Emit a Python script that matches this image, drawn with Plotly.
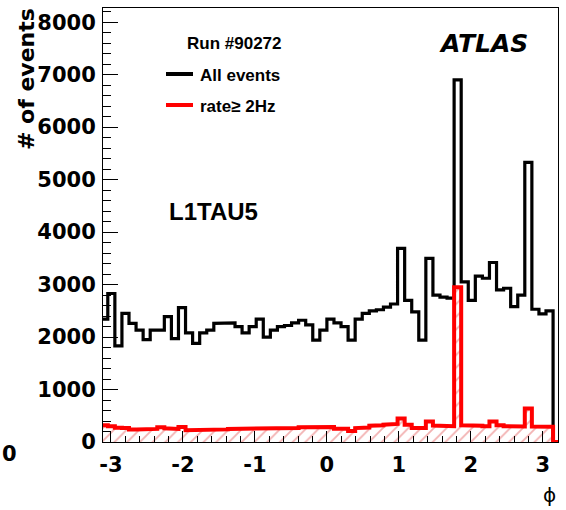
import numpy as np
import plotly.graph_objects as go

# Histogram binning in phi
n_bins = 64
phi_lo, phi_hi = -np.pi, np.pi

# Bin contents (events per phi bin)
all_events = [2340, 2830, 1830, 2450, 2260, 2130, 1950, 2130, 2130, 2390,
              1970, 2560, 2080, 1880, 2080, 2130, 2260, 2270, 2270, 2200,
              2080, 2200, 2340, 2000, 2130, 2200, 2220, 2270, 2320, 2230,
              1940, 2130, 2340, 2270, 2200, 1940, 2340, 2450, 2500, 2520,
              2570, 2630, 3690, 2700, 2480, 1940, 3500, 2800, 2760, 2740,
              6900, 3050, 2700, 3160, 3120, 3420, 2900, 2930, 2580, 2800,
              5330, 2530, 2440, 2500]

rate_ge_2hz = [318, 300, 270, 265, 240, 240, 245, 250, 280, 260,
               250, 285, 225, 222, 222, 222, 222, 240, 250, 250,
               250, 254, 254, 254, 254, 254, 254, 265, 280, 280,
               270, 286, 286, 254, 254, 210, 265, 275, 310, 318,
               330, 345, 450, 330, 265, 265, 390, 315, 300, 300,
               2950, 320, 305, 310, 300, 390, 320, 300, 300, 295,
               640, 295, 290, 290]

series_names = ["All events", "rate\u2265 2Hz"]
series_colors = ["#000000", "#ff0000"]

x_tick_vals = [-3, -2, -1, 0, 1, 2, 3]
x_tick_text = ["-3", "-2", "-1", "0", "1", "2", "3"]
y_tick_vals = [0, 1000, 2000, 3000, 4000, 5000, 6000, 7000, 8000]

x_range = [-3.11, 3.21]
y_range = [0, 8270]

edges = np.linspace(phi_lo, phi_hi, n_bins + 1)


def step_path(values):
    xs = np.concatenate([[edges[0]], np.repeat(edges, 2)[1:-1], [edges[-1]]])
    ys = np.concatenate([[0], np.repeat(np.asarray(values, float), 2), [0]])
    return xs, ys


bx, by = step_path(all_events)
rx, ry = step_path(rate_ge_2hz)
# the rate histogram line runs on along zero to the frame edge
rx = np.append(rx, x_range[1])
ry = np.append(ry, 0)

fig = go.Figure()
fig.add_trace(go.Scatter(x=bx, y=by, mode="lines",
                         line=dict(color=series_colors[0], width=3.2),
                         showlegend=False, hoverinfo="skip"))
fig.add_trace(go.Scatter(x=rx, y=ry, mode="lines",
                         line=dict(color=series_colors[1], width=4),
                         fill="tozeroy", fillcolor="rgba(0,0,0,0)",
                         fillpattern=dict(shape="/", fgcolor="rgba(225,70,70,0.85)",
                                          bgcolor="rgba(255,255,255,0)",
                                          size=9, solidity=0.2),
                         showlegend=False, hoverinfo="skip"))

# plot-area geometry in pixels (for placing text)
W, H = 566, 510
L, R, T, B = 103, 8, 8, 68
PW, PH = W - L - R, H - T - B


def px(x):
    return (x - L) / PW


def py(y):
    return (H - B - y) / PH


tick_font = dict(family="DejaVu Sans", size=21, color="black", weight="bold")
txt_font = dict(family="Liberation Sans", color="black", weight="bold")

fig.update_xaxes(range=x_range, tickmode="array", tickvals=x_tick_vals,
                 ticktext=x_tick_text,
                 ticks="inside", ticklen=11, tickwidth=1, tickcolor="black",
                 minor=dict(ticks="inside", ticklen=6, dtick=0.2, tick0=0,
                            tickcolor="black", showgrid=False),
                 showline=True, linecolor="black", linewidth=1, mirror=True,
                 showgrid=False, zeroline=False, tickfont=tick_font,
                 ticklabelstandoff=4)
fig.update_yaxes(range=y_range, tickmode="array", tickvals=y_tick_vals,
                 ticks="inside", ticklen=15, tickwidth=1, tickcolor="black",
                 minor=dict(ticks="inside", ticklen=8, dtick=200, tick0=0,
                            tickcolor="black", showgrid=False),
                 showline=True, linecolor="black", linewidth=1, mirror=True,
                 showgrid=False, zeroline=False, tickfont=tick_font,
                 ticklabelstandoff=2)

annotations = [
    dict(text="# of events", textangle=-90, x=px(27), y=py(6), xanchor="center",
         yanchor="top", font=dict(family="DejaVu Sans", size=22, color="black", weight="bold")),
    dict(text="\u03d5", x=px(549), y=py(495), xanchor="center", yanchor="middle",
         font=dict(family="DejaVu Sans", size=20, color="black")),
    dict(text="0", x=px(0), y=py(454), xanchor="left", yanchor="middle", font=tick_font),
    dict(text="Run #90272", x=px(234), y=py(44), xanchor="center", yanchor="middle",
         font=dict(size=17, **txt_font)),
    dict(text=series_names[0], x=px(198), y=py(75), xanchor="left", yanchor="middle",
         font=dict(size=17, **txt_font)),
    dict(text=series_names[1], x=px(198), y=py(106), xanchor="left", yanchor="middle",
         font=dict(size=17, **txt_font)),
    dict(text="<i>ATLAS</i>", x=px(483), y=py(43), xanchor="center", yanchor="middle",
         font=dict(family="DejaVu Sans", size=25, color="black", weight="bold")),
    dict(text="L1TAU5", x=px(213), y=py(212), xanchor="center", yanchor="middle",
         font=dict(size=24, **txt_font)),
]
for a in annotations:
    a.update(xref="paper", yref="paper", showarrow=False)

shapes = []
for yy, col in zip([74, 105], series_colors):
    shapes.append(dict(type="line", xref="paper", yref="paper",
                       x0=px(166), x1=px(193), y0=py(yy), y1=py(yy),
                       line=dict(color=col, width=4)))

fig.update_layout(width=W, height=H, margin=dict(l=L, r=R, t=T, b=B),
                  paper_bgcolor="white", plot_bgcolor="white",
                  annotations=annotations, shapes=shapes, showlegend=False)

fig.write_html("out.html")
